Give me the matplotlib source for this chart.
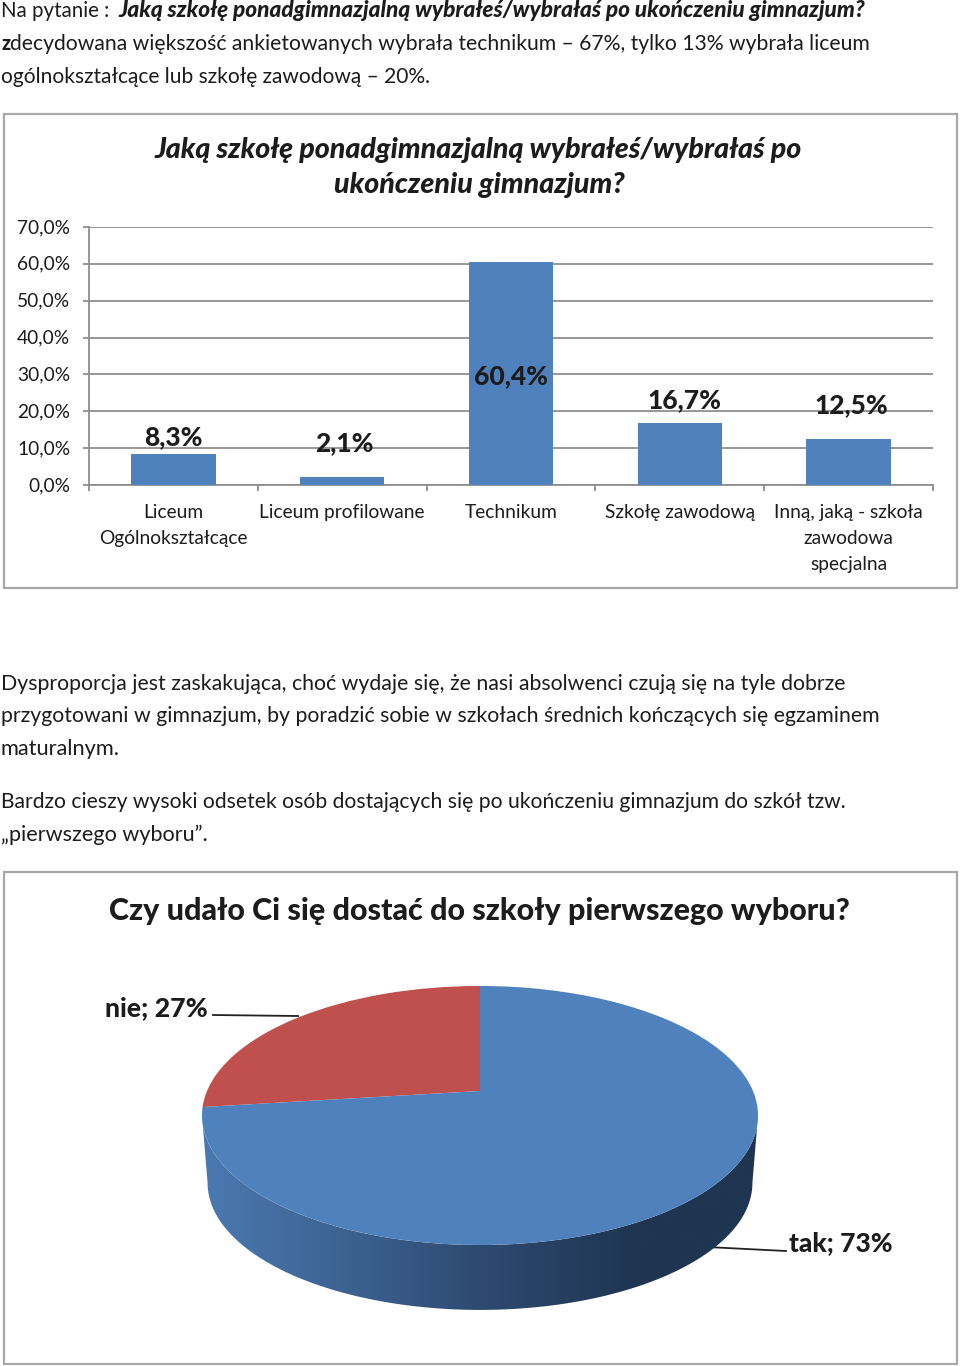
import numpy as np
import matplotlib
matplotlib.use("Agg")
import matplotlib.pyplot as plt
from matplotlib.patches import Rectangle, Polygon
from matplotlib.transforms import Transform, ScaledTranslation
from matplotlib.colors import LinearSegmentedColormap

# ---- data ----
categories = ["Liceum\nOgólnokształcące", "Liceum profilowane", "Technikum",
              "Szkołę zawodową", "Inną, jaką - szkoła\nzawodowa\nspecjalna"]
shares = [8.3, 2.1, 60.4, 16.7, 12.5]
share_labels = ["8,3%", "2,1%", "60,4%", "16,7%", "12,5%"]
y_ticks = [0, 10, 20, 30, 40, 50, 60, 70]
y_labels = ["0,0%", "10,0%", "20,0%", "30,0%", "40,0%", "50,0%", "60,0%", "70,0%"]
pie_values = [27, 73]
pie_labels = ["nie; 27%", "tak; 73%"]
title_1 = ["Jaką szkołę ponadgimnazjalną wybrałeś/wybrałaś po", "ukończeniu gimnazjum?"]
title_2 = "Czy udało Ci się dostać do szkoły pierwszego wyboru?"

W, H = 960, 1366
FONT = "Lato"
BOLD = 900
INK = "#1c1c1c"
fig = plt.figure(figsize=(W / 100, H / 100), dpi=100, facecolor="white")
renderer = fig.canvas.get_renderer()


def ax_px(x0, y0, x1, y1, **kw):
    return fig.add_axes([x0 / W, 1 - y1 / H, (x1 - x0) / W, (y1 - y0) / H], **kw)


pg = ax_px(0, 0, W, H, zorder=0)
pg.set_xlim(0, W)
pg.set_ylim(H, 0)
pg.axis("off")


def fit(txt, x0, x1, base, weight="normal", style="normal", ax=None, color=INK, z=5):
    a = ax or pg
    t = a.text(x0, base, txt, family=FONT, weight=weight, style=style, fontsize=16,
               ha="left", va="baseline", color=color, zorder=z)
    w = t.get_window_extent(renderer).width
    t.set_fontsize(16 * (x1 - x0) / w)
    return t


# page body text
fit("Na pytanie :", 1, 110, 17)
fit("Jaką szkołę ponadgimnazjalną wybrałeś/wybrałaś po ukończeniu gimnazjum?", 118, 866, 17,
    weight=BOLD, style="italic")
fit("z", 1, 10, 50, weight=BOLD)
fit("decydowana większość ankietowanych wybrała technikum – 67%, tylko 13% wybrała liceum", 10, 871, 50)
fit("ogólnokształcące lub szkołę zawodową – 20%.", 1, 433, 83)
fit("Dysproporcja jest zaskakująca, choć wydaje się, że nasi absolwenci czują się na tyle dobrze", 1, 846, 690)
fit("przygotowani w gimnazjum, by poradzić sobie w szkołach średnich kończących się egzaminem", 1, 880, 722)
fit("maturalnym.", 1, 121, 755)
fit("Bardzo cieszy wysoki odsetek osób dostających się po ukończeniu gimnazjum do szkół tzw.", 1, 848, 808)
fit("„pierwszego wyboru”.", 1, 209, 841)

# chart frames
for (x0, y0, x1, y1) in [(4, 114, 957, 588), (4, 872, 957, 1364)]:
    pg.add_patch(Rectangle((x0, y0), x1 - x0, y1 - y0, fc="white", ec="#a8a8a8", lw=1.6, zorder=1))

fit(title_1[0], 154, 804, 158, weight=BOLD, style="italic")
fit(title_1[1], 334, 626, 193, weight=BOLD, style="italic")
fit(title_2, 109, 851, 920, weight=BOLD)

# ---- bar chart ----
GRID = "#8f8f8f"
ax = ax_px(89, 227, 933, 485, zorder=2)
ax.patch.set_alpha(0)
xs = np.arange(len(categories))
ax.bar(xs, shares, width=0.5, color="#4f81bd", zorder=3)
ax.set_xlim(-0.5, len(categories) - 0.5)
ax.set_ylim(0, 70)
ax.set_yticks(y_ticks)
ax.set_yticklabels(y_labels)
ax.set_xticks(xs)
ax.set_xticklabels(categories, linespacing=1.64)
ax.set_xticks(np.arange(len(categories) + 1) - 0.5, minor=True)
ax.grid(axis="y", color=GRID, lw=1.3, zorder=1)
ax.set_axisbelow(True)
for s in ("top", "right"):
    ax.spines[s].set_visible(False)
for s in ("left", "bottom"):
    ax.spines[s].set_color(GRID)
    ax.spines[s].set_linewidth(1.3)
ax.tick_params(axis="y", length=4.5, width=1.3, color=GRID, pad=9, labelcolor=INK)
ax.tick_params(axis="x", which="major", length=0, pad=13.7, labelcolor=INK)
ax.tick_params(axis="x", which="minor", length=4, width=1.3, color=GRID)
for t in ax.get_xticklabels() + ax.get_yticklabels():
    t.set_family(FONT)
    t.set_fontsize(13.8)
    t.set_color(INK)
up = ScaledTranslation(0, 1 / 100, fig.dpi_scale_trans)
for t in ax.get_yticklabels():
    t.set_transform(t.get_transform() + up)

label_base = [(173, 445), (344, 451), (511, 384), (684, 408), (851, 413)]
for txt, (x, y) in zip(share_labels, label_base):
    fig.text(x / W, 1 - y / H, txt, family=FONT, weight=BOLD, fontsize=19,
             ha="center", va="baseline", color=INK, zorder=6)


# ---- 3D pie: perspective view of a unit circle ----
class Persp(Transform):
    input_dims = output_dims = 2

    def __init__(self, cx, cy, a, b, k):
        super().__init__()
        self.p = (cx, cy, a, b, k)

    def transform_non_affine(self, xy):
        cx, cy, a, b, k = self.p
        xy = np.asarray(xy, float)
        d = 1 + k * xy[:, 1]
        return np.column_stack((cx + a * xy[:, 0] / d, cy - b * xy[:, 1] / d))


pie_ax = ax_px(0, 0, W, H, zorder=3)
pie_ax.patch.set_alpha(0)
K = 0.189
top = Persp(480, 1091, 273, 124.9, K)
low = Persp(480, 1159, 267.5, 122.4, K)

# silhouette runs between the widest points of the two rims
t0 = np.degrees(np.arcsin(K))
t = np.radians(np.linspace(180 + t0, 360 - t0, 200))
circle = np.column_stack((np.cos(t), np.sin(t)))
poly = np.vstack((top.transform(circle), low.transform(circle)[::-1]))

wedges, _ = pie_ax.pie(pie_values, startangle=90, counterclock=True,
                       colors=["#c0504d", "#4f81bd"], radius=1, center=(0, 0), frame=False)
for w in wedges:
    w.set_transform(top + pie_ax.transData)
    w.set_zorder(4)
    w.set_edgecolor("none")
    w.set_clip_on(False)

pie_ax.set_aspect("auto")
pie_ax.set_xlim(0, W)
pie_ax.set_ylim(H, 0)
pie_ax.axis("off")

cmap = LinearSegmentedColormap.from_list(
    "side", [(0.0, "#4a78b0"), (0.18, "#416a9b"), (0.50, "#2d4a71"),
             (0.78, "#1f3552"), (1.0, "#1f3552")])
img = pie_ax.imshow(np.linspace(0, 1, 256)[None, :], cmap=cmap, aspect="auto",
                    extent=(202, 758, 1320, 1100), zorder=2)
clip = Polygon(poly, closed=True, transform=pie_ax.transData, fc="none", ec="none")
pie_ax.add_patch(clip)
img.set_clip_path(clip)
pie_ax.set_xlim(0, W)
pie_ax.set_ylim(H, 0)

pie_ax.plot([213, 298], [1015, 1016], color="#222222", lw=1.3, zorder=5)
pie_ax.plot([707, 786], [1247, 1251], color="#222222", lw=1.3, zorder=1)
fit(pie_labels[0], 105, 208, 1016, weight=BOLD)
fit(pie_labels[1], 789, 893, 1251, weight=BOLD)

fig.savefig("out.png", dpi=100, facecolor="white")
